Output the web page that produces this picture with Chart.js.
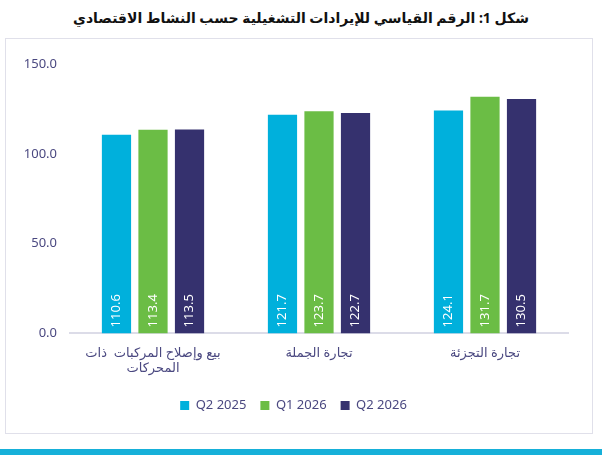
<!DOCTYPE html>
<html lang="ar">
<head>
<meta charset="utf-8">
<script src="https://cdn.jsdelivr.net/npm/chart.js@4"></script>
<style>
  html, body { margin: 0; padding: 0; background: #fff; }
  body { width: 602px; height: 455px; position: relative; overflow: hidden;
         font-family: 'Noto Sans', 'DejaVu Sans', sans-serif; }
  #title { position: absolute; left: 0; top: 8px; width: 602px; text-align: center;
           font-weight: bold; font-size: 14px; color: #111; direction: rtl; }
  #box { position: absolute; left: 5px; top: 38px; width: 586px; height: 394px;
         border: 1.5px solid #e0e0ea; }
  #stripe { position: absolute; left: 0; top: 449px; width: 602px; height: 6px; background: #16b0d9; }
</style>
</head>
<body>
<div id="title">شكل 1: الرقم القياسي للإيرادات التشغيلية حسب النشاط الاقتصادي</div>
<div id="box"><canvas id="chart" width="586" height="394"></canvas></div>
<div id="stripe"></div>
<script>
// categories and series values
const categories = [['بيع وإصلاح المركبات  ذات', 'المحركات'], 'تجارة الجملة', 'تجارة التجزئة'];
const q2_2025 = [110.6, 121.7, 124.1];
const q1_2026 = [113.4, 123.7, 131.7];
const q2_2026 = [113.5, 122.7, 130.5];
const yTicks = [0, 50, 100, 150];

const textColor = '#4a4880';
const fontFamily = "'Noto Sans', 'DejaVu Sans', sans-serif";

// white values written upward inside each bar
const barValues = {
  id: 'barValues',
  afterDatasetsDraw(chart) {
    const ctx = chart.ctx;
    chart.data.datasets.forEach((ds, i) => {
      chart.getDatasetMeta(i).data.forEach((bar, j) => {
        ctx.save();
        ctx.translate(bar.x, bar.base - 6);
        ctx.rotate(-Math.PI / 2);
        ctx.fillStyle = '#fff';
        ctx.font = '13px ' + fontFamily;
        ctx.textAlign = 'left';
        ctx.textBaseline = 'middle';
        ctx.fillText(ds.data[j].toFixed(1), 0, 0);
        ctx.restore();
      });
    });
  }
};

new Chart(document.getElementById('chart'), {
  type: 'bar',
  data: {
    labels: categories,
    datasets: [
      { label: 'Q2 2025', data: q2_2025, backgroundColor: '#00b0dc' },
      { label: 'Q1 2026', data: q1_2026, backgroundColor: '#6bbd45' },
      { label: 'Q2 2026', data: q2_2026, backgroundColor: '#35316e' }
    ]
  },
  options: {
    responsive: false,
    animation: false,
    layout: { padding: { left: 13, right: 24, top: 25, bottom: 11 } },
    datasets: { bar: { categoryPercentage: 0.66, barPercentage: 0.8 } },
    scales: {
      x: {
        grid: { display: false, drawTicks: false },
        border: { color: '#dcdce8', width: 2 },
        ticks: { color: textColor, font: { family: fontFamily, size: 13, lineHeight: 1.1 }, padding: 13 },
        // the wide first label should not push the plot to the right
        afterFit: s => { s.paddingLeft = 0; s.paddingRight = 0; s.height -= 3; }
      },
      y: {
        min: 0, max: 150,
        afterBuildTicks: axis => { axis.ticks = yTicks.map(v => ({ value: v })); },
        grid: { display: false, drawTicks: false },
        border: { display: false },
        ticks: {
          color: textColor, padding: 13,
          font: { family: fontFamily, size: 13 },
          callback: v => v.toFixed(1)
        },
        afterFit: s => { s.width = 51; }
      }
    },
    plugins: {
      tooltip: { enabled: false },
      legend: {
        position: 'bottom',
        labels: {
          boxWidth: 9, boxHeight: 9, padding: 14, color: textColor,
          font: { family: fontFamily, size: 13 }
        }
      }
    }
  },
  plugins: [barValues]
});
</script>
</body>
</html>
